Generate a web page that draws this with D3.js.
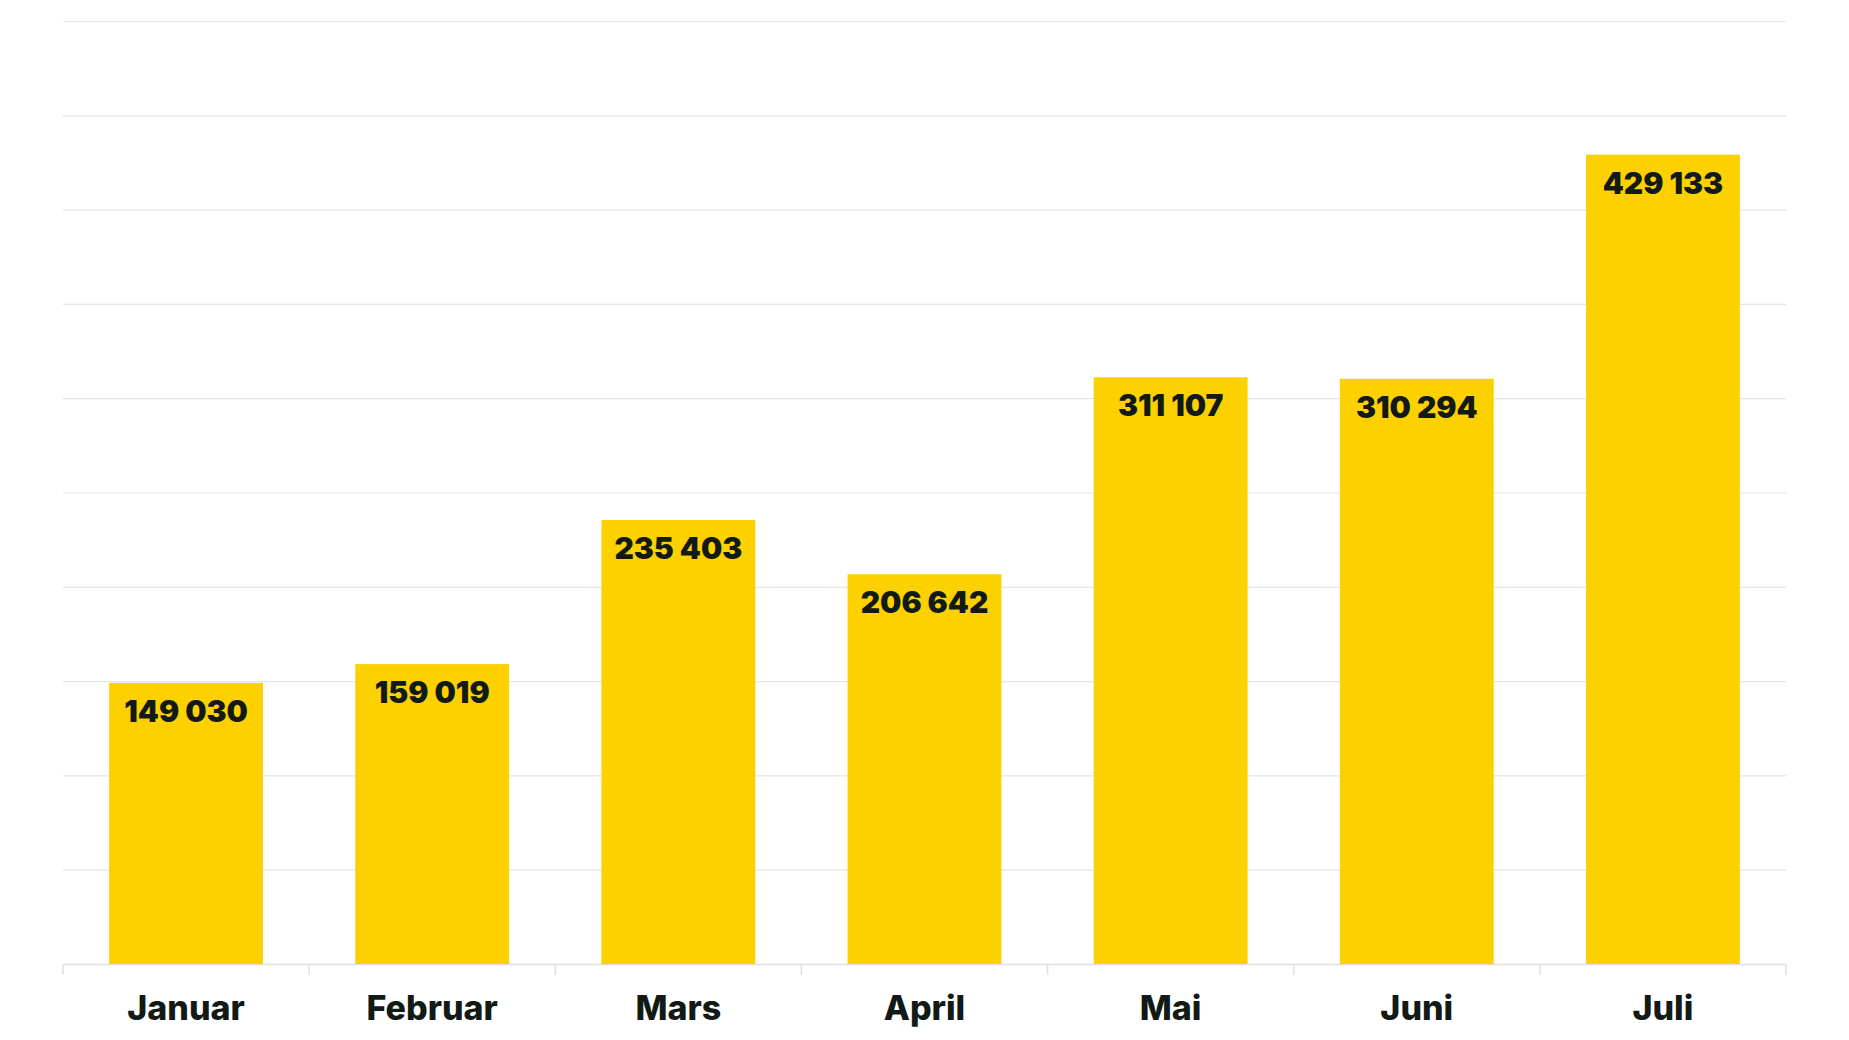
<!DOCTYPE html>
<html><head><meta charset="utf-8">
<script src="https://cdn.jsdelivr.net/npm/d3@7"></script>
<style>body{margin:0;background:#fff;}svg{display:block;}</style>
</head><body>
<script>
const categories = ["Januar","Februar","Mars","April","Mai","Juni","Juli"];
const values = [149030,159019,235403,206642,311107,310294,429133];
const yTicks = [0,50000,100000,150000,200000,250000,300000,350000,400000,450000,500000];

const W = 1849, H = 1040;
const margin = {left:63, right:63, top:21, bottom:76};
const svg = d3.select("body").append("svg").attr("width",W).attr("height",H);

const x = d3.scaleBand().domain(categories).range([margin.left, W-margin.right])
  .paddingInner(0.375).paddingOuter(0.1875);
const y = d3.scaleLinear().domain([0,500000]).range([H-margin.bottom, margin.top]);

// gridlines
svg.append("g").attr("transform",`translate(${margin.left},0)`)
  .call(d3.axisLeft(y).tickValues(yTicks).tickSize(-(W-margin.left-margin.right)).tickFormat(""))
  .call(g=>g.select(".domain").remove())
  .call(g=>g.selectAll("line").attr("stroke","#e4e4e4").attr("stroke-width",1.2));

// x axis
const xb = d3.scaleBand().domain(categories).range([margin.left, W-margin.right]);
const fmt = v => d3.format(",")(v).replace(/,/g," ");
const xAxis = svg.append("g").attr("transform",`translate(0,${y(0)})`)
  .call(d3.axisBottom(xb).tickSize(0).tickFormat(""));
xAxis.select(".domain").attr("stroke","#e0e0e0").attr("stroke-width",1.5);
xAxis.selectAll(".tick").remove();
const bounds = categories.map(c=>xb(c)).concat([W-margin.right]);
svg.append("g").selectAll("line").data(bounds).join("line")
  .attr("x1",d=>d).attr("x2",d=>d).attr("y1",y(0)).attr("y2",y(0)+11)
  .attr("stroke","#e0e0e0").attr("stroke-width",1.5);

// bars
svg.append("g").selectAll("rect").data(values).join("rect")
  .attr("x",(d,i)=>x(categories[i])).attr("width",x.bandwidth())
  .attr("y",d=>y(d)).attr("height",d=>y(0)-y(d)).attr("fill","#FDD000");

// value labels
svg.append("g").selectAll("text").data(values).join("text")
  .attr("x",(d,i)=>x(categories[i])+x.bandwidth()/2).attr("y",d=>y(d)+39)
  .attr("text-anchor","middle").attr("font-family","Inter, sans-serif")
  .attr("font-weight",900).attr("font-size",30)
  .attr("fill","#111a14").text(d=>fmt(d));

// category labels
svg.append("g").selectAll("text").data(categories).join("text")
  .attr("x",d=>xb(d)+xb.bandwidth()/2).attr("y",1020)
  .attr("text-anchor","middle").attr("font-family","Inter, sans-serif")
  .attr("font-weight",800).attr("font-size",34)
  .attr("fill","#111a14").text(d=>d);
</script>
</body></html>
